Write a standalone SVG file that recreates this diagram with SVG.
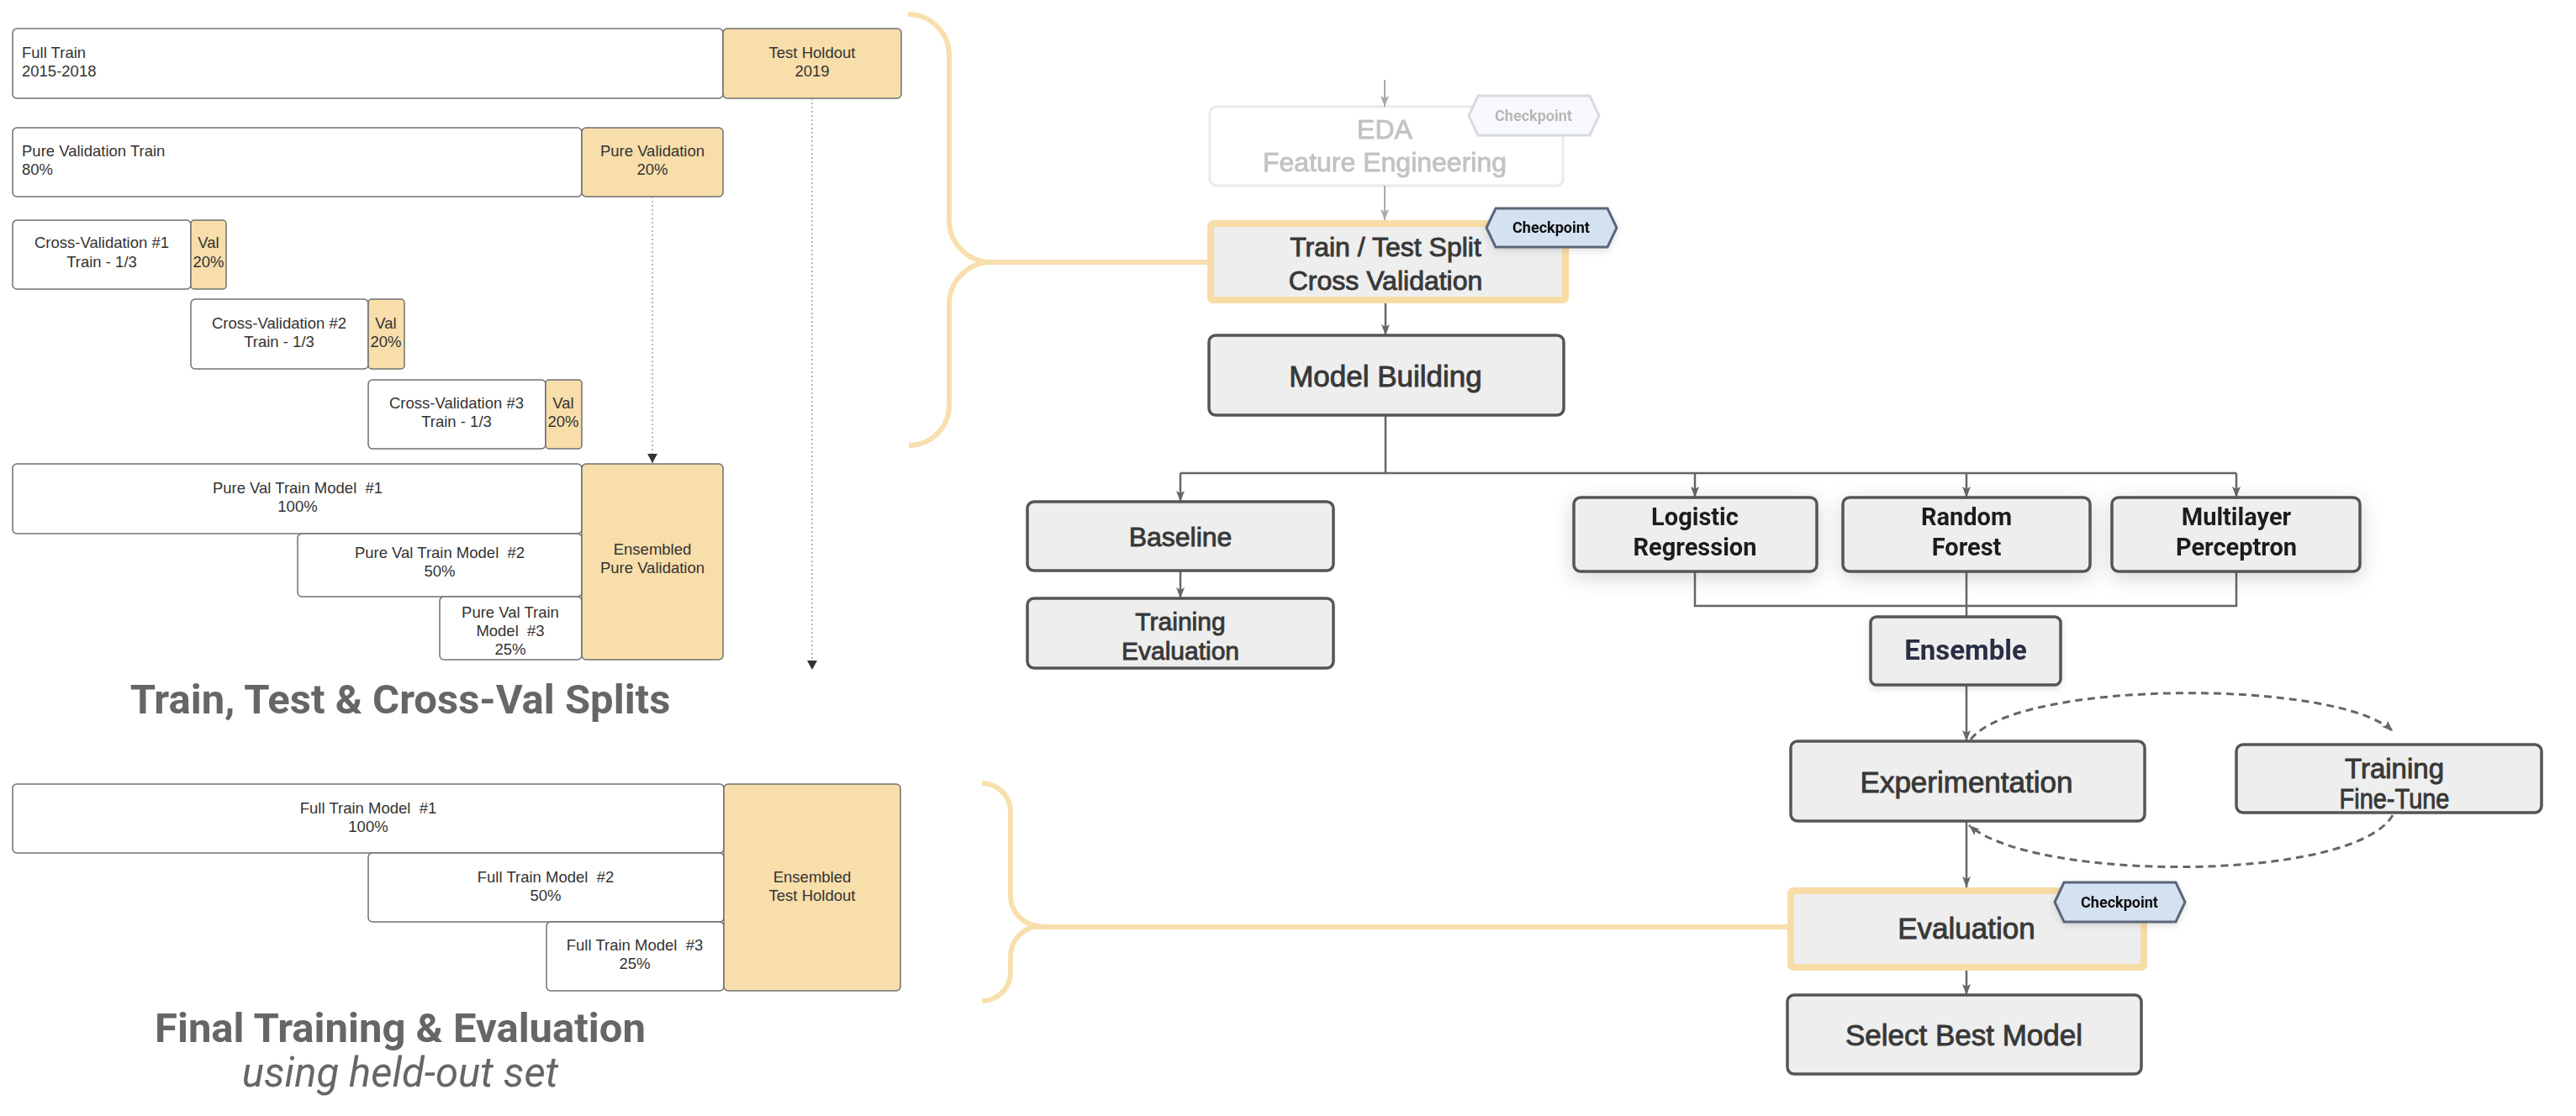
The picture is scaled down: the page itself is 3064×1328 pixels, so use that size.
<svg xmlns="http://www.w3.org/2000/svg" width="3064" height="1328" viewBox="0 0 3064 1328">
<style>
.lb{fill:#ffffff;stroke:#707070;stroke-width:1.5}
.lo{fill:#F8DEAB;stroke:#707070;stroke-width:1.5}
.lt{font-family:"Liberation Sans",Arial,sans-serif;font-size:18.5px;fill:#333}
.title{font-family:Roboto,"Liberation Sans",sans-serif;font-weight:bold;fill:#666}
.sub{font-family:Roboto,"Liberation Sans",sans-serif;font-style:italic;fill:#666}
.rb{fill:#EEEEEE;stroke:#555;stroke-width:3.5}
.hl{fill:#EEEEEE;stroke:#F8DCA6;stroke-width:8}
.rt{font-family:"Liberation Sans",Arial,sans-serif;fill:#383838;stroke:#383838;stroke-width:0.9;text-anchor:middle}
.bt{font-family:Roboto,"Liberation Sans",sans-serif;font-weight:bold;fill:#1e1e1e;text-anchor:middle;font-size:29px}
.cp{fill:#D4E1F1;stroke:#5B6678;stroke-width:3}
.cpt{font-family:Roboto,"Liberation Sans",sans-serif;font-weight:bold;font-size:18px;fill:#111;text-anchor:middle}
.con{fill:none;stroke:#666;stroke-width:2.5}
.dash{fill:none;stroke:#666;stroke-width:3;stroke-dasharray:9 6}
.dot{fill:none;stroke:#888;stroke-width:1.2;stroke-dasharray:2 3}
.br{fill:none;stroke:#F8DFAE;stroke-width:6}
.c{text-anchor:middle}
</style>
<defs>
<marker id="ah" markerUnits="userSpaceOnUse" markerWidth="14" markerHeight="12" refX="13" refY="6" orient="auto">
<path d="M0,1 L13,6 L0,11 L3,6 z" fill="#666"/>
</marker>
<marker id="ahd" markerUnits="userSpaceOnUse" markerWidth="12" markerHeight="12" refX="11" refY="6" orient="auto">
<path d="M0,0 L11,6 L0,12 z" fill="#333"/>
</marker>
<marker id="ahf" markerUnits="userSpaceOnUse" markerWidth="14" markerHeight="12" refX="13" refY="6" orient="auto">
<path d="M0,1 L13,6 L0,11 L3,6 z" fill="#aaa"/>
</marker>
<filter id="sh" x="-20%" y="-30%" width="140%" height="170%">
<feDropShadow dx="0" dy="6" stdDeviation="12" flood-color="#000" flood-opacity="0.16"/>
</filter>
<filter id="sh2" x="-20%" y="-30%" width="140%" height="170%">
<feDropShadow dx="0" dy="3" stdDeviation="4" flood-color="#000" flood-opacity="0.12"/>
</filter>
</defs>

<!-- brackets -->
<g id="brackets">
<path class="br" d="M1080,17 A49,49 0 0 1 1129,66 L1129,262 A50,50 0 0 0 1179,312 M1163,312 L1437,312 M1179,312 A50,50 0 0 0 1129,362 L1129,482 A48,48 0 0 1 1081,530"/>
<path class="br" d="M1168,932 A34,34 0 0 1 1202,966 L1202,1066 A36,36 0 0 0 1238,1102 M1222,1103 L2127,1103 M1238,1102 A36,36 0 0 0 1202,1138 L1202,1157 A34,34 0 0 1 1168,1191"/>
</g>

<!-- left: splits -->
<g id="full-train"><rect class="lb" x="15" y="34" width="845" height="83" rx="5"/><text class="lt" x="26" y="69">Full Train</text><text class="lt" x="26" y="91">2015-2018</text></g>
<g id="test-holdout"><rect class="lo" x="860" y="34" width="212" height="83" rx="5"/><text class="lt c" x="966" y="69">Test Holdout</text><text class="lt c" x="966" y="91">2019</text></g>
<g id="pv-train"><rect class="lb" x="15" y="152" width="677" height="82" rx="5"/><text class="lt" x="26" y="186">Pure Validation Train</text><text class="lt" x="26" y="208">80%</text></g>
<g id="pure-val"><rect class="lo" x="692" y="152" width="168" height="82" rx="5"/><text class="lt c" x="776" y="186">Pure Validation</text><text class="lt c" x="776" y="208">20%</text></g>
<g id="cv1"><rect class="lb" x="15" y="262" width="212" height="82" rx="5"/><text class="lt c" x="121" y="295">Cross-Validation #1</text><text class="lt c" x="121" y="318">Train - 1/3</text></g>
<g id="cv1-val"><rect class="lo" x="227" y="262" width="42" height="82" rx="4"/><text class="lt c" x="248" y="295">Val</text><text class="lt c" x="248" y="318">20%</text></g>
<g id="cv2"><rect class="lb" x="227" y="356" width="211" height="83" rx="5"/><text class="lt c" x="332" y="391">Cross-Validation #2</text><text class="lt c" x="332" y="413">Train - 1/3</text></g>
<g id="cv2-val"><rect class="lo" x="438" y="356" width="43" height="83" rx="4"/><text class="lt c" x="459" y="391">Val</text><text class="lt c" x="459" y="413">20%</text></g>
<g id="cv3"><rect class="lb" x="438" y="452" width="211" height="82" rx="5"/><text class="lt c" x="543" y="486">Cross-Validation #3</text><text class="lt c" x="543" y="508">Train - 1/3</text></g>
<g id="cv3-val"><rect class="lo" x="649" y="452" width="43" height="82" rx="4"/><text class="lt c" x="670" y="486">Val</text><text class="lt c" x="670" y="508">20%</text></g>
<g id="pvtm1"><rect class="lb" x="15" y="552" width="677" height="83" rx="5"/><text class="lt c" x="354" y="587" xml:space="preserve">Pure Val Train Model  #1</text><text class="lt c" x="354" y="609">100%</text></g>
<g id="pvtm2"><rect class="lb" x="354" y="635" width="338" height="75" rx="5"/><text class="lt c" x="523" y="664" xml:space="preserve">Pure Val Train Model  #2</text><text class="lt c" x="523" y="686">50%</text></g>
<g id="pvtm3"><rect class="lb" x="523" y="710" width="169" height="75" rx="5"/><text class="lt c" x="607" y="735">Pure Val Train</text><text class="lt c" x="607" y="757" xml:space="preserve">Model  #3</text><text class="lt c" x="607" y="779">25%</text></g>
<g id="ens-pv"><rect class="lo" x="692" y="552" width="168" height="233" rx="5"/><text class="lt c" x="776" y="660">Ensembled</text><text class="lt c" x="776" y="682">Pure Validation</text></g>

<text class="title c" x="476" y="849" font-size="49">Train, Test &amp; Cross-Val Splits</text>

<g id="ftm1"><rect class="lb" x="15" y="933" width="846" height="82" rx="5"/><text class="lt c" x="438" y="968" xml:space="preserve">Full Train Model  #1</text><text class="lt c" x="438" y="990">100%</text></g>
<g id="ftm2"><rect class="lb" x="438" y="1015" width="423" height="82" rx="5"/><text class="lt c" x="649" y="1050" xml:space="preserve">Full Train Model  #2</text><text class="lt c" x="649" y="1072">50%</text></g>
<g id="ftm3"><rect class="lb" x="650" y="1097" width="211" height="82" rx="5"/><text class="lt c" x="755" y="1131" xml:space="preserve">Full Train Model  #3</text><text class="lt c" x="755" y="1153">25%</text></g>
<g id="ens-th"><rect class="lo" x="861" y="933" width="210" height="246" rx="5"/><text class="lt c" x="966" y="1050">Ensembled</text><text class="lt c" x="966" y="1072">Test Holdout</text></g>

<text class="title c" x="476" y="1240" font-size="49">Final Training &amp; Evaluation</text>
<text class="sub c" x="476" y="1293" font-size="49">using held-out set</text>

<!-- connectors -->
<g id="connectors">
<path class="dot" d="M776,234 L776,551" marker-end="url(#ahd)"/>
<path class="dot" d="M966,117 L966,797" marker-end="url(#ahd)"/>
<path fill="none" stroke="#aaa" stroke-width="2" d="M1647,95 L1647,127" marker-end="url(#ahf)"/>
<path fill="none" stroke="#aaa" stroke-width="2" d="M1647,221 L1647,262" marker-end="url(#ahf)"/>
<path class="con" d="M1648,361 L1648,399" marker-end="url(#ah)"/>
<path class="con" d="M1648,494 L1648,563 M1404,563 L2660,563"/>
<path class="con" d="M1404,563 L1404,597" marker-end="url(#ah)"/>
<path class="con" d="M2016,563 L2016,592" marker-end="url(#ah)"/>
<path class="con" d="M2339,563 L2339,592" marker-end="url(#ah)"/>
<path class="con" d="M2660,563 L2660,592" marker-end="url(#ah)"/>
<path class="con" d="M1404,679 L1404,712" marker-end="url(#ah)"/>
<path class="con" d="M2016,680 L2016,721 L2660,721 L2660,680 M2339,680 L2339,734"/>
<path class="con" d="M2339,815 L2339,882" marker-end="url(#ah)"/>
<path class="con" d="M2339,977 L2339,1056" marker-end="url(#ah)"/>
<path class="con" d="M2339,1155 L2339,1184" marker-end="url(#ah)"/>
<path class="dash" d="M2344,880 C2400,808 2780,808 2846,870" marker-end="url(#ah)"/>
<path class="dash" d="M2846,970 C2800,1050 2420,1050 2342,982" marker-end="url(#ah)"/>
</g>

<!-- right: flow -->
<g id="eda" opacity="0.3">
<rect x="1439" y="127" width="420" height="94" rx="8" fill="#fff" stroke="#bbb" stroke-width="3"/>
<text class="rt" x="1647" y="165" font-size="32" fill="#777" stroke="#777">EDA</text>
<text class="rt" x="1647" y="204" font-size="32" fill="#777" stroke="#777">Feature Engineering</text>
<polygon points="1747,137.5 1758,114 1891,114 1902,137.5 1891,161 1758,161" fill="#E8EEF7" stroke="#7d8696" stroke-width="3"/>
<text class="cpt" x="1824" y="144" fill="#555">Checkpoint</text>
</g>
<g id="train-test-split">
<rect class="hl" x="1440" y="266" width="422" height="91" rx="3"/>
<text class="rt" x="1648" y="305" font-size="32">Train / Test Split</text>
<text class="rt" x="1648" y="345" font-size="32">Cross Validation</text>
</g>
<g id="checkpoint-1" filter="url(#sh2)">
<polygon class="cp" points="1768,271 1779,248 1912,248 1923,271 1912,294 1779,294"/>
<text class="cpt" x="1845" y="277">Checkpoint</text>
</g>
<g id="model-building"><rect class="rb" x="1438" y="399" width="422" height="95" rx="8"/><text class="rt" x="1648" y="460" font-size="35">Model Building</text></g>
<g id="baseline"><rect class="rb" x="1222" y="597" width="364" height="82" rx="8"/><text class="rt" x="1404" y="650" font-size="32">Baseline</text></g>
<g id="training-evaluation"><rect class="rb" x="1222" y="712" width="364" height="83" rx="8"/><text class="rt" x="1404" y="750" font-size="30">Training</text><text class="rt" x="1404" y="785" font-size="30">Evaluation</text></g>
<g id="logistic-regression" filter="url(#sh)"><rect class="rb" x="1872" y="592" width="289" height="88" rx="8"/><text class="bt" x="2016" y="625">Logistic</text><text class="bt" x="2016" y="661">Regression</text></g>
<g id="random-forest" filter="url(#sh)"><rect class="rb" x="2192" y="592" width="294" height="88" rx="8"/><text class="bt" x="2339" y="625">Random</text><text class="bt" x="2339" y="661">Forest</text></g>
<g id="multilayer-perceptron" filter="url(#sh)"><rect class="rb" x="2512" y="592" width="295" height="88" rx="8"/><text class="bt" x="2660" y="625">Multilayer</text><text class="bt" x="2660" y="661">Perceptron</text></g>
<g id="ensemble" filter="url(#sh2)"><rect class="rb" x="2225" y="734" width="226" height="81" rx="7"/><text class="bt" x="2338" y="785" style="font-size:33px;fill:#2B2E45">Ensemble</text></g>
<g id="experimentation"><rect class="rb" x="2130" y="882" width="421" height="95" rx="8"/><text class="rt" x="2339" y="943" font-size="35">Experimentation</text></g>
<g id="training-fine-tune"><rect class="rb" x="2660" y="886" width="363" height="81" rx="8"/><text class="rt" x="2848" y="926" font-size="33" textLength="118" lengthAdjust="spacingAndGlyphs">Training</text><text class="rt" x="2848" y="962" font-size="33" textLength="131" lengthAdjust="spacingAndGlyphs">Fine-Tune</text></g>
<g id="evaluation">
<rect class="hl" x="2130" y="1060" width="420" height="91" rx="3"/>
<text class="rt" x="2339" y="1117" font-size="35">Evaluation</text>
</g>
<g id="checkpoint-2" filter="url(#sh2)">
<polygon class="cp" points="2444,1073.5 2455,1050 2588,1050 2599,1073.5 2588,1097 2455,1097"/>
<text class="cpt" x="2521" y="1080">Checkpoint</text>
</g>
<g id="select-best-model"><rect class="rb" x="2126" y="1184" width="421" height="94" rx="8"/><text class="rt" x="2336" y="1244" font-size="35">Select Best Model</text></g>
</svg>
